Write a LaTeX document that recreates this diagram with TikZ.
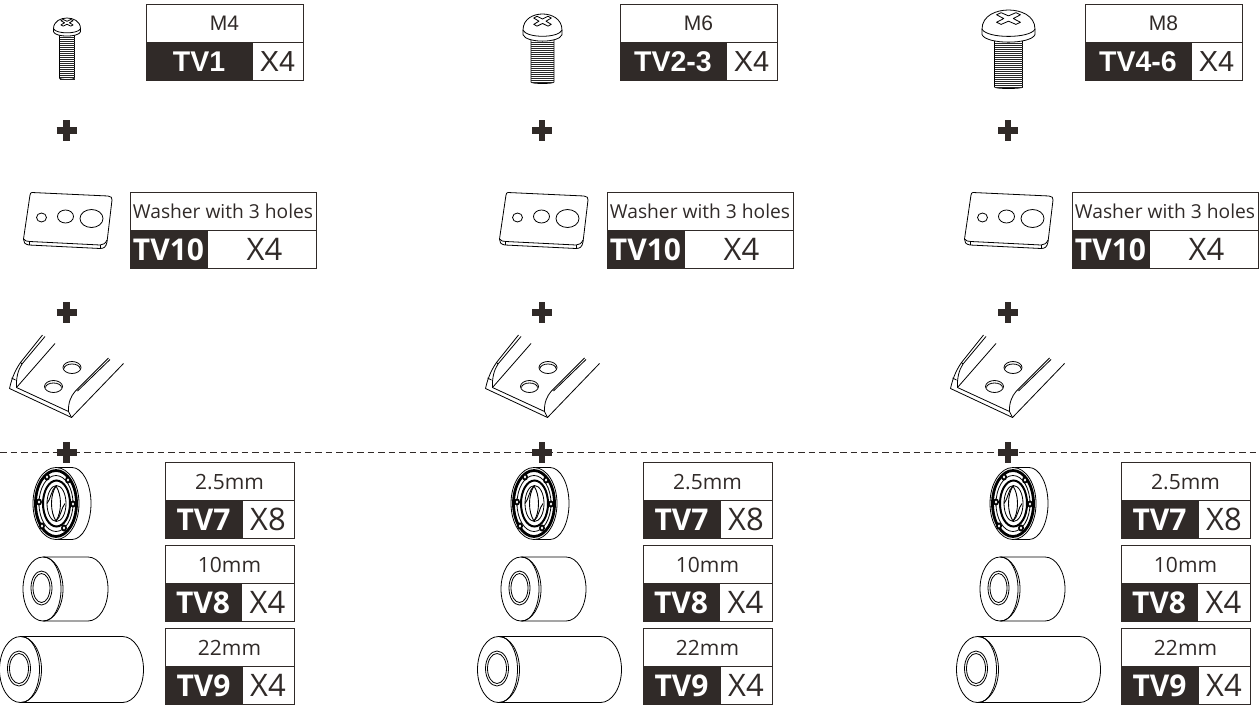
\documentclass[tikz,border=0pt]{standalone}
\usepackage{fontspec}
\usetikzlibrary{positioning}

\newfontfamily\arialfont{Liberation Sans}
\newfontfamily\opensfont{Open Sans}
\definecolor{tagink}{HTML}{302A28}

\tikzset{
    partline/.style={draw=black, line width=0.8pt, line join=round},
    threadline/.style={draw=black!85, line width=0.8pt},
    plusmark/.style={draw=tagink, line width=6.5pt},
    tagbase/.style={inner sep=0pt, outer sep=0pt, minimum height=38pt, anchor=north west, text=tagink},
    tagtitle/.style={tagbase, draw=tagink, line width=1pt},
    tagcode/.style={tagbase, draw=tagink, fill=tagink, line width=1pt, text=white},
    tagqty/.style={tagbase, draw=tagink, line width=1pt},
    screwtitle/.style={font=\arialfont\fontsize{21}{21}\selectfont},
    screwcode/.style={font=\arialfont\bfseries\fontsize{28.5}{29}\selectfont},
    screwqty/.style={font=\arialfont\fontsize{29}{29}\selectfont},
    opentitle/.style={font=\opensfont\fontsize{21}{21}\selectfont},
    wordtitle/.style={font=\opensfont\fontsize{19.2}{20}\selectfont},
    opencode/.style={font=\opensfont\bfseries\fontsize{30}{30}\selectfont},
    openqty/.style={font=\opensfont\fontsize{31}{31}\selectfont},
    wordcode/.style={opencode},
    wordqty/.style={openqty}
}

% name, x, y, title width, code width, title, code, qty, font prefix
\newcommand{\parttag}[9]{
    \node[tagtitle, #9title, minimum width=#4pt-1pt] (#1title) at (#2,#3-0.25) {#6};
    \node[tagcode, #9code, minimum width=#5pt, below right=0pt and 0pt of #1title.south west, anchor=north west] (#1code) {#7};
    \node[tagqty, #9qty, minimum width=#4pt-#5pt-1pt, right=0pt of #1code.east, anchor=west] (#1qty) {\raisebox{-1pt}{#8}};
}

% centre x, top, head radius, head height, shank half width, bottom
\newcommand{\screwicon}[6]{
    \draw[partline, fill=white] (#1-#5,#2+#4-1) -- (#1-#5,#6-2) .. controls (#1-#5,#6) and (#1+#5,#6) .. (#1+#5,#6-2) -- (#1+#5,#2+#4-1);
    \pgfmathsetmacro{\threadtop}{#2+#4+1.5}
    \pgfmathsetmacro{\threadnext}{#2+#4+3.5}
    \pgfmathsetmacro{\threadend}{#6-0.5}
    \foreach \ty in {\threadtop,\threadnext,...,\threadend}
        \draw[threadline] (#1-#5,\ty) -- (#1+#5,\ty);
    \begin{scope}[shift={(#1,#2)}, xscale=#3, yscale=#4/1.2]
        \draw[partline, fill=white] (-1,0.72) .. controls (-1,0.2) and (-0.45,0) .. (0,0)
            .. controls (0.45,0) and (1,0.2) .. (1,0.72) -- (1,0.92)
            .. controls (0.85,1.3) and (-0.85,1.3) .. (-1,0.92) -- cycle;
        \draw[partline] (-1,0.72) .. controls (-0.8,1.08) and (0.8,1.08) .. (1,0.72);
        \draw[partline] (-0.18,0.32) -- (-0.45,0.18) -- (-0.28,0.1) -- (0,0.22) -- (0.28,0.1) -- (0.45,0.18)
            -- (0.18,0.32) -- (0.45,0.46) -- (0.28,0.54) -- (0,0.42) -- (-0.28,0.54) -- (-0.45,0.46) -- cycle;
    \end{scope}
}

% centre x, centre y, radius x, radius y, length, hole radius x, hole radius y
\newcommand{\spacericon}[7]{
    \draw[partline] (#1,#2-#4) -- ++(#5,0) arc[start angle=-90, end angle=90, x radius=#3, y radius=#4] -- (#1,#2+#4);
    \draw[partline] (#1,#2) ellipse[x radius=#3, y radius=#4];
    \draw[partline] (#1+1,#2-#4) arc[start angle=-90, end angle=90, x radius=#3-3, y radius=#4];
    \draw[partline] (#1-1.5,#2-1) ellipse[x radius=#6, y radius=#7];
    \draw[partline] (#1-1.5,#2-1) ellipse[x radius=#6-2, y radius=#7-2.5];
}

\begin{document}
\begin{tikzpicture}[x=1pt, y=-1pt]
    \useasboundingbox (0,0) rectangle (1260,704);

    % Divider
    \coordinate (divleft) at (0,452);
    \coordinate (divright) at (1260,452);
    \draw[tagink, line width=1pt, dash pattern=on 6.5pt off 4pt] (divleft) -- (divright);

    % Screws
    \screwicon{67}{18}{13.5}{18}{7.5}{80}
    \screwicon{542.5}{14}{19.5}{27}{11.5}{84}
    \screwicon{1008.5}{10}{26.5}{32}{14}{89}

    % Screw tags
    \parttag{screwa}{146}{5}{158}{106}{M4}{TV1}{X4}{screw}
    \parttag{screwb}{620}{5}{158}{106}{M6}{TV2-3}{X4}{screw}
    \parttag{screwc}{1085}{5}{158}{106}{M8}{TV4-6}{X4}{screw}

    % Plus signs
    \foreach \px in {66.5, 542, 1008} {
        \draw[plusmark] (\px,120) -- (\px,141) (\px-10,130.5) -- (\px+10,130.5);
        \draw[plusmark] (\px,302) -- (\px,323) (\px-10,312.5) -- (\px+10,312.5);
        \draw[plusmark] (\px,442) -- (\px,463) (\px-10,452.5) -- (\px+10,452.5);
    }

    % Columns
    \foreach \col/\dx/\sx/\wx/\tx in {a/0/0/130/165, b/476/478/607/643, c/941/957/1072/1121} {

        % Washer
        \begin{scope}[shift={(\dx,0)}]
            \draw[partline, fill=white] (32,192.5) -- (108,196) .. controls (111,196) and (112.5,198) .. (112,200)
                -- (107,242) .. controls (106,247) and (104,248.5) .. (100,248.5)
                -- (29,245) .. controls (25,244.5) and (23,242) .. (23.5,239) -- (30,195) .. controls (30,193.5) and (31,192.5) .. (32,192.5) -- cycle;
            \draw[partline] (23.5,239) .. controls (25,241) and (27,241.5) .. (30,241.5) -- (100,245) .. controls (103,245) and (105.5,243.5) .. (107,240);
            \draw[partline] (29,241.5) -- (29,245) (100,245) -- (100,248.5);
            \draw[partline] (41.5,217.5) ellipse[x radius=5, y radius=4.5];
            \draw[partline] (65.5,216.5) ellipse[x radius=8, y radius=6.5];
            \draw[partline] (91.5,218.5) ellipse[x radius=11.5, y radius=9];
        \end{scope}

        % Rail
        \begin{scope}[shift={(\dx,0)}]
            \draw[partline] (42.5,335) -- (20.5,362.5) .. controls (16,369) and (12,377) .. (9.5,388.5)
                -- (71.5,417.5) -- (123.5,363.5);
            \draw[partline] (45,336.5) -- (22,364) .. controls (18,370) and (16,378) .. (16.5,387.5)
                -- (68.5,411.5) .. controls (68,403) and (71,396) .. (75,391.5) -- (108.5,358);
            \draw[partline] (55,343.5) -- (16.5,387.5);
            \draw[partline] (77.5,391) -- (110,359.5);
            \draw[partline] (11.5,378) -- (15.5,380) (20.5,362.5) -- (22,364) (68.5,411.5) -- (71.5,417.5);
            \draw[partline] (72,367.5) ellipse[x radius=9, y radius=6];
            \draw[partline] (64,368.5) arc[start angle=180, end angle=360, x radius=8, y radius=4.5];
            \draw[partline] (53.5,386.5) ellipse[x radius=9, y radius=6];
            \draw[partline] (45.5,387.5) arc[start angle=180, end angle=360, x radius=8, y radius=4.5];
        \end{scope}

        % Washer tag
        \parttag{washer\col}{\wx}{193}{187}{77}{Washer with 3 holes}{TV10}{\hspace*{6pt}X4}{word}

        % Spacers
        \begin{scope}[shift={(\sx,0)}]
            \draw[partline] (56,467.5) -- (72,467.5) arc[start angle=-90, end angle=90, x radius=19, y radius=36] -- (56,539.5);
            \draw[partline, fill=white] (56,503.5) ellipse[x radius=23, y radius=36];
            \draw[black, line width=2.8pt] (56,503.5) ellipse[x radius=20.5, y radius=33];
            \draw[black, line width=0.8pt] (56,503.5) ellipse[x radius=17, y radius=28];
            \draw[black, line width=2pt] (56.5,503.5) ellipse[x radius=13.5, y radius=23];
            \draw[black, line width=0.8pt] (56.5,503.5) ellipse[x radius=9.5, y radius=18];
            \draw[black, line width=0.9pt] (56,486) .. controls (50,495) and (50,512) .. (56,521)
                .. controls (62,512) and (62,495) .. (56,486);
            \draw[black, line width=0.9pt] (47,503.5) .. controls (51,499) and (51,490) .. (56,486)
                (65,503.5) .. controls (61,508) and (61,517) .. (56,521);
            \foreach \bx/\by in {47/477, 68/480, 73/504, 64/528, 42/526, 39/502}
                \fill[black] (\bx,\by) ellipse[x radius=3, y radius=3.6];
            \foreach \bx/\by in {47/477, 68/480, 73/504, 64/528, 42/526, 39/502}
                \fill[white] (\bx,\by) ellipse[x radius=1.2, y radius=1.6];
        \end{scope}
        \pgfmathsetmacro{\cylb}{43+\sx}
        \pgfmathsetmacro{\cylc}{20.5+\sx}
        \spacericon{\cylb}{589}{20}{32}{45}{10.5}{17}
        \spacericon{\cylc}{669.5}{21}{33}{102}{11.5}{17.5}

        % Spacer tags
        \parttag{thin\col}{\tx}{463}{130}{77}{2.5mm}{TV7}{X8}{open}
        \parttag{mid\col}{\tx}{546}{130}{76}{10mm}{TV8}{X4}{open}
        \parttag{long\col}{\tx}{629}{130}{77}{22mm}{TV9}{X4}{open}
    }
\end{tikzpicture}
\end{document}
